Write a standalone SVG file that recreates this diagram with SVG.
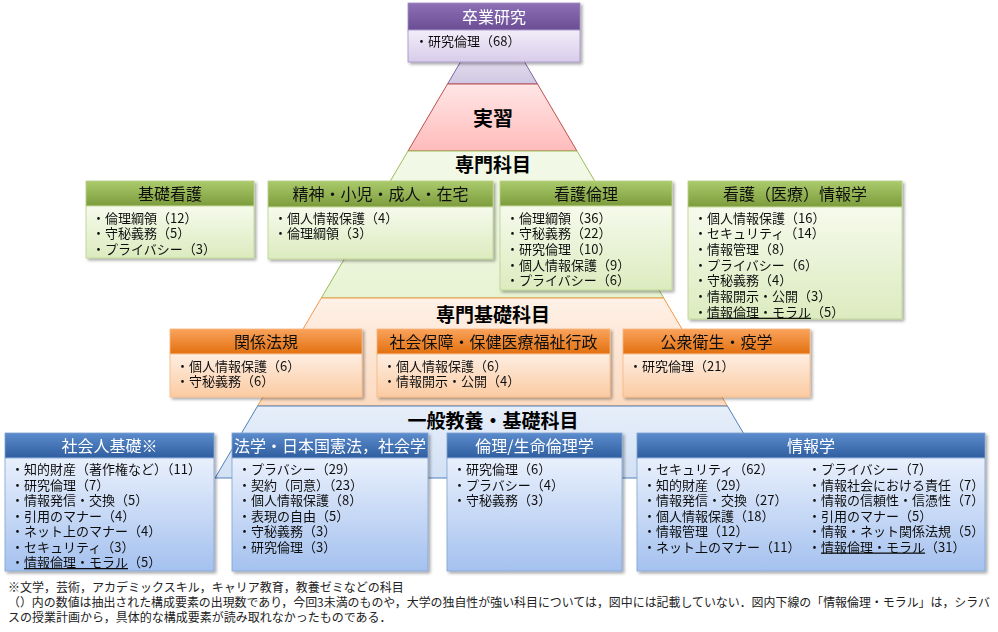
<svg xmlns="http://www.w3.org/2000/svg" width="998" height="632" viewBox="0 0 998 632">
<defs>
<linearGradient id="hP" x1="0" y1="0" x2="0" y2="1"><stop offset="0" stop-color="#8D70B5"/><stop offset="1" stop-color="#6A4D94"/></linearGradient>
<linearGradient id="bP" x1="0" y1="0" x2="0" y2="1"><stop offset="0" stop-color="#F2EDF9"/><stop offset="1" stop-color="#D8CCEA"/></linearGradient>
<linearGradient id="hG" x1="0" y1="0" x2="0" y2="1"><stop offset="0" stop-color="#ABCA6C"/><stop offset="1" stop-color="#7C9C3C"/></linearGradient>
<linearGradient id="bG" x1="0" y1="0" x2="0" y2="1"><stop offset="0" stop-color="#F6FAEC"/><stop offset="1" stop-color="#DCEBBF"/></linearGradient>
<linearGradient id="hO" x1="0" y1="0" x2="0" y2="1"><stop offset="0" stop-color="#FAA35C"/><stop offset="1" stop-color="#E2700F"/></linearGradient>
<linearGradient id="bO" x1="0" y1="0" x2="0" y2="1"><stop offset="0" stop-color="#FEEEE2"/><stop offset="1" stop-color="#FBCBA2"/></linearGradient>
<linearGradient id="hB" x1="0" y1="0" x2="0" y2="1"><stop offset="0" stop-color="#5C8CCD"/><stop offset="1" stop-color="#2F5E9F"/></linearGradient>
<linearGradient id="bB" x1="0" y1="0" x2="0" y2="1"><stop offset="0" stop-color="#E9F0FC"/><stop offset="1" stop-color="#A4C1EF"/></linearGradient>
<linearGradient id="pP" x1="0" y1="0" x2="0" y2="1"><stop offset="0" stop-color="#E6E1F0"/><stop offset="1" stop-color="#CFC7E2"/></linearGradient>
<linearGradient id="pR" x1="0" y1="0" x2="0" y2="1"><stop offset="0" stop-color="#FFE6E6"/><stop offset="1" stop-color="#FFBBBB"/></linearGradient>
<linearGradient id="pG" x1="0" y1="0" x2="0" y2="1"><stop offset="0" stop-color="#F3F9E8"/><stop offset="1" stop-color="#E8F3D4"/></linearGradient>
<linearGradient id="pO" x1="0" y1="0" x2="0" y2="1"><stop offset="0" stop-color="#FEF1E7"/><stop offset="1" stop-color="#FCDAC0"/></linearGradient>
<linearGradient id="pB" x1="0" y1="0" x2="0" y2="1"><stop offset="0" stop-color="#E6EEF9"/><stop offset="1" stop-color="#D3E1F5"/></linearGradient>
<filter id="sh" x="-5%" y="-5%" width="112%" height="115%"><feDropShadow dx="2" dy="2" stdDeviation="1.5" flood-color="#000" flood-opacity="0.35"/></filter>
</defs>
<style>
text{font-family:"Noto Sans CJK JP","Noto Sans",sans-serif;}
.t{font-size:16px;text-anchor:middle;fill:#111;}
.tw{font-size:16px;text-anchor:middle;fill:#fff;}
.i{font-size:13px;fill:#111;}
.band{font-size:19px;font-weight:bold;text-anchor:middle;fill:#000;}
.f{font-size:12px;fill:#222;}
.u{text-decoration:underline;}
.sG{stroke:#B9D18A;stroke-width:0.8;}
.sO{stroke:#F8B77F;stroke-width:0.8;}
.sB{stroke:#7FA2D3;stroke-width:0.8;}
.sP{stroke:#A08CC0;stroke-width:0.8;}
</style>
<rect width="998" height="632" fill="#fff"/>

<g id="pyramid">
<polygon points="464.6,55 520.4,55 537.5,84 447.5,84" fill="url(#pP)" stroke="#8064A2" stroke-width="1"/>
<polygon points="447.5,84 537.5,84 577,151 408,151" fill="url(#pR)" stroke="#C0504D" stroke-width="1"/>
<polygon points="408,151 577,151 663.7,298 321.3,298" fill="url(#pG)" stroke="#9BBB59" stroke-width="1"/>
<polygon points="321.3,298 663.7,298 727.4,406 257.6,406" fill="url(#pO)" stroke="#F79646" stroke-width="1"/>
<polygon points="257.6,406 727.4,406 770,478 215,478" fill="url(#pB)" stroke="#4F81BD" stroke-width="1"/>
<text class="band" x="493" y="126" style="font-size:20px">実習</text>
<text class="band" x="493" y="172">専門科目</text>
<text class="band" x="493" y="322">専門基礎科目</text>
<text class="band" x="493" y="428">一般教養・基礎科目</text>
</g>

<g id="sotsugyo" filter="url(#sh)">
<rect x="408" y="3" width="172" height="27" fill="url(#hP)" class="sP"/>
<rect x="408" y="30" width="172" height="32" fill="url(#bP)" class="sP"/>
<text class="tw" x="494" y="22.5">卒業研究</text>
<text class="i" x="415" y="45.5">・研究倫理（68）</text>
</g>

<g id="kiso-kango" filter="url(#sh)">
<rect x="86" y="181" width="168" height="25" fill="url(#hG)" class="sG"/>
<rect x="86" y="206" width="168" height="52" fill="url(#bG)" class="sG"/>
<text class="t" x="170" y="199.5">基礎看護</text>
<text class="i" x="92" y="222.5">・倫理綱領（12）</text>
<text class="i" x="92" y="238.2">・守秘義務（5）</text>
<text class="i" x="92" y="253.9">・プライバシー（3）</text>
</g>

<g id="seishin" filter="url(#sh)">
<rect x="268" y="181" width="225" height="26" fill="url(#hG)" class="sG"/>
<rect x="268" y="207" width="225" height="52" fill="url(#bG)" class="sG"/>
<text class="t" x="380.5" y="199.5">精神・小児・成人・在宅</text>
<text class="i" x="274" y="222.5">・個人情報保護（4）</text>
<text class="i" x="274" y="238.2">・倫理綱領（3）</text>
</g>

<g id="kango-rinri" filter="url(#sh)">
<rect x="500" y="181" width="172" height="25" fill="url(#hG)" class="sG"/>
<rect x="500" y="206" width="172" height="84" fill="url(#bG)" class="sG"/>
<text class="t" x="586" y="199.5">看護倫理</text>
<text class="i" x="506" y="222.5">・倫理綱領（36）</text>
<text class="i" x="506" y="238.2">・守秘義務（22）</text>
<text class="i" x="506" y="253.9">・研究倫理（10）</text>
<text class="i" x="506" y="269.6">・個人情報保護（9）</text>
<text class="i" x="506" y="285.3">・プライバシー（6）</text>
</g>

<g id="kango-joho" filter="url(#sh)">
<rect x="688" y="181" width="214" height="26" fill="url(#hG)" class="sG"/>
<rect x="688" y="207" width="214" height="112" fill="url(#bG)" class="sG"/>
<text class="t" x="795" y="199.5">看護（医療）情報学</text>
<text class="i" x="694" y="222.5">・個人情報保護（16）</text>
<text class="i" x="694" y="238.2">・セキュリティ（14）</text>
<text class="i" x="694" y="253.9">・情報管理（8）</text>
<text class="i" x="694" y="269.6">・プライバシー（6）</text>
<text class="i" x="694" y="285.3">・守秘義務（4）</text>
<text class="i" x="694" y="301">・情報開示・公開（3）</text>
<text class="i" x="694" y="316.7">・<tspan class="u">情報倫理・モラル</tspan>（5）</text>
</g>

<g id="kankei-hoki" filter="url(#sh)">
<rect x="170" y="329" width="192" height="25" fill="url(#hO)" class="sO"/>
<rect x="170" y="354" width="192" height="43" fill="url(#bO)" class="sO"/>
<text class="t" x="266" y="347.5">関係法規</text>
<text class="i" x="176" y="370.5">・個人情報保護（6）</text>
<text class="i" x="176" y="386">・守秘義務（6）</text>
</g>

<g id="shakai-hosho" filter="url(#sh)">
<rect x="377" y="329" width="233" height="25" fill="url(#hO)" class="sO"/>
<rect x="377" y="354" width="233" height="43" fill="url(#bO)" class="sO"/>
<text class="t" x="493.5" y="347.5">社会保障・保健医療福祉行政</text>
<text class="i" x="383" y="370.5">・個人情報保護（6）</text>
<text class="i" x="383" y="386">・情報開示・公開（4）</text>
</g>

<g id="koshu-eisei" filter="url(#sh)">
<rect x="623" y="329" width="187" height="25" fill="url(#hO)" class="sO"/>
<rect x="623" y="354" width="187" height="43" fill="url(#bO)" class="sO"/>
<text class="t" x="716.5" y="347.5">公衆衛生・疫学</text>
<text class="i" x="629" y="370.5">・研究倫理（21）</text>
</g>

<g id="shakaijin-kiso" filter="url(#sh)">
<rect x="5" y="433" width="209" height="25" fill="url(#hB)" class="sB"/>
<rect x="5" y="458" width="209" height="113" fill="url(#bB)" class="sB"/>
<text class="tw" x="109.5" y="451.5">社会人基礎※</text>
<text class="i" x="11" y="474">・知的財産（著作権など）（11）</text>
<text class="i" x="11" y="489.5">・研究倫理（7）</text>
<text class="i" x="11" y="505">・情報発信・交換（5）</text>
<text class="i" x="11" y="520.5">・引用のマナー（4）</text>
<text class="i" x="11" y="536">・ネット上のマナー（4）</text>
<text class="i" x="11" y="551.5">・セキュリティ（3）</text>
<text class="i" x="11" y="567">・<tspan class="u">情報倫理・モラル</tspan>（5）</text>
</g>

<g id="hogaku" filter="url(#sh)">
<rect x="232" y="433" width="196" height="25" fill="url(#hB)" class="sB"/>
<rect x="232" y="458" width="196" height="113" fill="url(#bB)" class="sB"/>
<text class="tw" x="330" y="451.5">法学・日本国憲法，社会学</text>
<text class="i" x="238" y="474">・プラバシー（29）</text>
<text class="i" x="238" y="489.5">・契約（同意）（23）</text>
<text class="i" x="238" y="505">・個人情報保護（8）</text>
<text class="i" x="238" y="520.5">・表現の自由（5）</text>
<text class="i" x="238" y="536">・守秘義務（3）</text>
<text class="i" x="238" y="551.5">・研究倫理（3）</text>
</g>

<g id="rinri" filter="url(#sh)">
<rect x="447" y="433" width="175" height="25" fill="url(#hB)" class="sB"/>
<rect x="447" y="458" width="175" height="113" fill="url(#bB)" class="sB"/>
<text class="tw" x="534.5" y="451.5">倫理/生命倫理学</text>
<text class="i" x="453" y="474">・研究倫理（6）</text>
<text class="i" x="453" y="489.5">・プラバシー（4）</text>
<text class="i" x="453" y="505">・守秘義務（3）</text>
</g>

<g id="johogaku" filter="url(#sh)">
<rect x="637" y="433" width="348" height="25" fill="url(#hB)" class="sB"/>
<rect x="637" y="458" width="348" height="113" fill="url(#bB)" class="sB"/>
<text class="tw" x="811" y="451.5">情報学</text>
<text class="i" x="643" y="474">・セキュリティ（62）</text>
<text class="i" x="643" y="489.5">・知的財産（29）</text>
<text class="i" x="643" y="505">・情報発信・交換（27）</text>
<text class="i" x="643" y="520.5">・個人情報保護（18）</text>
<text class="i" x="643" y="536">・情報管理（12）</text>
<text class="i" x="643" y="551.5">・ネット上のマナー（11）</text>
<text class="i" x="808" y="474">・プライバシー（7）</text>
<text class="i" x="808" y="489.5">・情報社会における責任（7）</text>
<text class="i" x="808" y="505">・情報の信頼性・信憑性（7）</text>
<text class="i" x="808" y="520.5">・引用のマナー（5）</text>
<text class="i" x="808" y="536">・情報・ネット関係法規（5）</text>
<text class="i" x="808" y="551.5">・<tspan class="u">情報倫理・モラル</tspan>（31）</text>
</g>

<g id="footer">
<text class="f" x="8" y="592">※文学，芸術，アカデミックスキル，キャリア教育，教養ゼミなどの科目</text>
<text class="f" x="8" y="607" textLength="982" lengthAdjust="spacingAndGlyphs">（）内の数値は抽出された構成要素の出現数であり，今回3未満のものや，大学の独自性が強い科目については，図中には記載していない．図内下線の「情報倫理・モラル」は，シラバ</text>
<text class="f" x="8" y="622">スの授業計画から，具体的な構成要素が読み取れなかったものである．</text>
</g>
</svg>
